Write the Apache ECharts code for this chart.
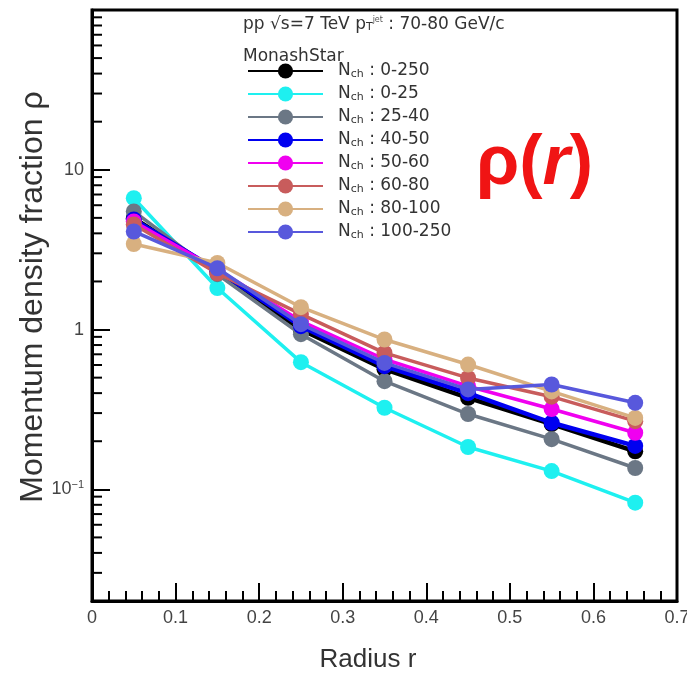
<!DOCTYPE html>
<html><head><meta charset="utf-8">
<script src="https://cdn.jsdelivr.net/npm/echarts@6/dist/echarts.min.js"></script>
<style>html,body{margin:0;padding:0;background:#fff}#c{width:687px;height:681px}</style>
</head><body><div id="c"></div><script>
// ---- data ----
const radius = [0.05, 0.15, 0.25, 0.35, 0.45, 0.55, 0.65];
const nchBins = ['0-250', '0-25', '25-40', '40-50', '50-60', '60-80', '80-100', '100-250'];
const rho_0_250   = [4.98, 2.31, 1.00, 0.565, 0.374, 0.256, 0.173];
const rho_0_25    = [6.64, 1.82, 0.625, 0.324, 0.184, 0.130, 0.0825];
const rho_25_40   = [5.49, 2.22, 0.935, 0.475, 0.296, 0.206, 0.136];
const rho_40_50   = [4.89, 2.35, 1.05, 0.59, 0.40, 0.261, 0.187];
const rho_50_60   = [4.75, 2.38, 1.13, 0.652, 0.442, 0.318, 0.226];
const rho_60_80   = [4.55, 2.25, 1.25, 0.714, 0.498, 0.38, 0.267];
const rho_80_100  = [3.43, 2.61, 1.38, 0.866, 0.604, 0.41, 0.28];
const rho_100_250 = [4.11, 2.42, 1.08, 0.618, 0.422, 0.453, 0.348];
const xTickLabels = ['0', '0.1', '0.2', '0.3', '0.4', '0.5', '0.6', '0.7'];
const yTickLabels = { '-1': '10{sup|−1}', '0': '1', '1': '10' };
const yMinorTicks = [0.03, 0.04, 0.05, 0.06, 0.07, 0.08, 0.09,
                     0.2, 0.3, 0.4, 0.5, 0.6, 0.7, 0.8, 0.9,
                     2, 3, 4, 5, 6, 7, 8, 9,
                     20, 30, 40, 50, 60, 70, 80, 90];

// ---- styles ----
const allValues = [rho_0_250, rho_0_25, rho_25_40, rho_40_50, rho_50_60, rho_60_80, rho_80_100, rho_100_250];
const colors = ['#000000', '#1EF0F0', '#6B7785', '#0000F0', '#F000F0', '#C85C5C', '#D8B080', '#5858DC'];
const widths = [4.5, 3.5, 3.5, 4.5, 3.5, 3.5, 3.5, 3.5];
const FONT = "'Liberation Sans', Arial, sans-serif";
const WFONT = "'DejaVu Sans', 'Liberation Sans', sans-serif";

const series = nchBins.map((bin, i) => ({
  name: bin,
  type: 'line',
  data: radius.map((r, k) => [r, allValues[i][k]]),
  symbol: 'circle',
  symbolSize: 16,
  lineStyle: { color: colors[i], width: widths[i] },
  itemStyle: { color: colors[i] },
  emphasis: { disabled: true },
  z: 3 + i
}));

series.push({
  type: 'custom',
  name: 'minorticks',
  data: yMinorTicks.map(v => [0, v]),
  silent: true,
  z: 20,
  renderItem: function (params, api) {
    const p = api.coord([api.value(0), api.value(1)]);
    return {
      type: 'line',
      shape: { x1: p[0], y1: p[1], x2: p[0] + 10, y2: p[1] },
      style: { stroke: '#000', lineWidth: 2 }
    };
  }
});

const chart = echarts.init(document.getElementById('c'), null, { renderer: 'canvas' });
chart.setOption({
  backgroundColor: '#fff',
  animation: false,
  grid: { left: 92, right: 10, top: 10, bottom: 80, show: true, borderColor: '#000', borderWidth: 3,
          backgroundColor: 'transparent', outerBoundsMode: 'none', containLabel: false },
  xAxis: {
    type: 'value', min: 0, max: 0.7, interval: 0.1,
    axisLine: { show: true, onZero: false, lineStyle: { color: '#000', width: 3 } },
    axisTick: { show: true, inside: true, length: 18, lineStyle: { color: '#000', width: 2 } },
    minorTick: { show: true, splitNumber: 5, length: 10, lineStyle: { color: '#000', width: 2 } },
    splitLine: { show: false },
    axisLabel: {
      margin: 8, color: '#444', fontSize: 18, fontFamily: FONT,
      formatter: v => xTickLabels[Math.round(v * 10)]
    }
  },
  yAxis: {
    type: 'log', logBase: 10, min: 0.02, max: 100,
    axisLine: { show: true, lineStyle: { color: '#000', width: 3 } },
    axisTick: { show: true, inside: true, length: 18, lineStyle: { color: '#000', width: 2 } },
    splitLine: { show: false },
    axisLabel: {
      margin: 8, color: '#444', fontSize: 18, fontFamily: FONT,
      formatter: v => {
        const e = Math.log10(v);
        const r = Math.round(e);
        if (Math.abs(e - r) > 1e-6) return '';
        return yTickLabels[String(r)] || '';
      },
      rich: { sup: { fontSize: 11, verticalAlign: 'top', color: '#444', fontFamily: FONT, padding: [0, 0, 8, 0] } }
    }
  },
  legend: {
    data: nchBins,
    orient: 'vertical',
    left: 242, top: 57.5,
    itemWidth: 75, itemHeight: 19, itemGap: 6,
    padding: 5,
    selectedMode: false,
    formatter: name => '{n|N}{sub|ch}{t| : ' + name + '}',
    textStyle: {
      color: '#333', fontFamily: WFONT, fontSize: 17,
      rich: {
        n: { fontSize: 17, fontFamily: WFONT, color: '#333', padding: [0, 0, 0, 10] },
        sub: { fontSize: 11, fontFamily: WFONT, color: '#333', verticalAlign: 'bottom' },
        t: { fontSize: 17, fontFamily: WFONT, color: '#333' }
      }
    }
  },
  graphic: [
    { type: 'text', left: 243, top: 16, z: 50,
      style: { text: 'pp √s=7 TeV p{sub|T}{sup|jet} : 70-80 GeV/c', fill: '#333', font: '17px ' + WFONT,
        rich: { sub: { fontSize: 11, fontFamily: WFONT, fill: '#333', verticalAlign: 'bottom' },
                sup: { fontSize: 8, fontFamily: WFONT, fill: '#555', verticalAlign: 'top' } } } },
    { type: 'text', left: 243, top: 48, z: 50,
      style: { text: 'MonashStar', fill: '#333', font: '17px ' + WFONT } },
    { type: 'text', left: 476, top: 130, z: 50,
      style: { text: 'ρ({i|r})', fill: '#F01414', font: 'bold 70px ' + FONT,
        rich: { i: { fontStyle: 'italic', fontWeight: 'bold', fontSize: 70, fontFamily: FONT, fill: '#F01414' } } } },
    { type: 'text', x: 33, y: 297, rotation: Math.PI / 2, z: 50,
      style: { text: 'Momentum density fraction ρ', fill: '#333', font: '32px ' + FONT, align: 'center', verticalAlign: 'middle' } },
    { type: 'text', x: 368, y: 660, z: 50,
      style: { text: 'Radius r', fill: '#333', font: '26px ' + FONT, align: 'center', verticalAlign: 'middle' } }
  ],
  series: series
});
</script></body></html>
